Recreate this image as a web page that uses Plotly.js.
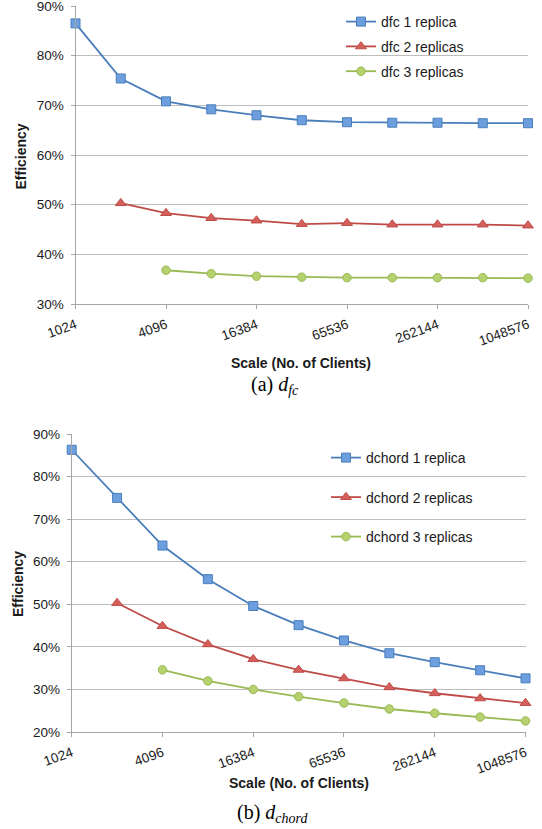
<!DOCTYPE html>
<html>
<head>
<meta charset="utf-8">
<script src="https://cdn.plot.ly/plotly-3.0.1.min.js"></script>
<style>
  html, body { margin: 0; padding: 0; background: #ffffff; }
  #chart { width: 542px; height: 829px; }
</style>
</head>
<body>
<div id="chart"></div>
<script>
// Number of clients at each measured scale
const clients = [1024, 2048, 4096, 8192, 16384, 32768, 65536, 131072, 262144, 524288, 1048576];
const tickValues = [1024, 4096, 16384, 65536, 262144, 1048576];
const tickLabels = ['1024', '4096', '16384', '65536', '262144', '1048576'];

// Efficiency of dfc with 1, 2 and 3 replicas
const dfc1 = [0.865, 0.754, 0.708, 0.692, 0.680, 0.670, 0.666, 0.665, 0.665, 0.664, 0.664];
const dfc2 = [null, 0.503, 0.483, 0.473, 0.468, 0.461, 0.463, 0.460, 0.460, 0.460, 0.458];
const dfc3 = [null, null, 0.368, 0.361, 0.356, 0.354, 0.353, 0.353, 0.353, 0.353, 0.352];

// Efficiency of dchord with 1, 2 and 3 replicas
const dchord1 = [0.863, 0.750, 0.638, 0.559, 0.496, 0.451, 0.415, 0.385, 0.364, 0.345, 0.326];
const dchord2 = [null, 0.503, 0.449, 0.406, 0.371, 0.346, 0.326, 0.305, 0.291, 0.279, 0.268];
const dchord3 = [null, null, 0.346, 0.320, 0.300, 0.283, 0.268, 0.254, 0.244, 0.235, 0.226];

const W = 542, H = 829;
const px = v => v / W;          // horizontal pixel -> paper
const py = v => 1 - v / H;      // vertical pixel -> paper
const EPS = 1e-6;               // keeps edge points and edge ticks inside the range

const SANS = 'Liberation Sans, Arial, sans-serif';
const SERIF = 'Liberation Serif, Times New Roman, serif';

const styles = [
  { line: '#4a7ebb', fill: '#6d9ede', symbol: 'square', size: 9 },
  { line: '#be4b48', fill: '#d45f5b', symbol: 'triangle-up', size: 9.5 },
  { line: '#98b954', fill: '#b6d26e', symbol: 'circle', size: 8.5 }
];

function series(name, values, k, xa, ya, legendId) {
  const s = styles[k];
  return {
    type: 'scatter', mode: 'lines+markers',
    x: clients, y: values, name: name,
    xaxis: xa, yaxis: ya, legend: legendId,
    legendgroup: legendId + '_' + k,
    connectgaps: false, cliponaxis: false,
    line: { color: s.line, width: 1.8 },
    marker: { symbol: s.symbol, size: s.size, color: s.fill, line: { color: s.line, width: 1 } },
    hoverinfo: 'x+y'
  };
}

const traces = [
  series('dfc 1 replica', dfc1, 0, 'x', 'y', 'legend'),
  series('dfc 2 replicas', dfc2, 1, 'x', 'y', 'legend'),
  series('dfc 3 replicas', dfc3, 2, 'x', 'y', 'legend'),
  series('dchord 1 replica', dchord1, 0, 'x2', 'y2', 'legend2'),
  series('dchord 2 replicas', dchord2, 1, 'x2', 'y2', 'legend2'),
  series('dchord 3 replicas', dchord3, 2, 'x2', 'y2', 'legend2')
];

const tickFont = { family: SANS, size: 13.5, color: '#1a1a1a' };

function xAxis(domain, anchor) {
  return {
    domain: domain, anchor: anchor, type: 'log',
    range: [Math.log10(clients[0]) - EPS, Math.log10(clients[clients.length - 1]) + EPS],
    tickmode: 'array', tickvals: tickValues, ticktext: tickLabels,
    tickangle: -20, tickfont: tickFont, ticklabelstandoff: 3,
    ticklabeloverflow: 'allow',
    ticks: 'outside', ticklen: 4, tickcolor: '#a6a6a6', tickwidth: 1,
    showline: true, linecolor: '#a6a6a6', linewidth: 1,
    showgrid: false, zeroline: false, fixedrange: true
  };
}

function yAxis(domain, anchor, lo, hi) {
  return {
    domain: domain, anchor: anchor, range: [lo - EPS, hi + EPS],
    tickmode: 'linear', dtick: 0.1, tick0: 0, tickformat: '.0%', tickfont: tickFont,
    ticklabeloverflow: 'allow',
    ticks: 'outside', ticklen: 4, tickcolor: '#a6a6a6', tickwidth: 1,
    ticklabelstandoff: 4,
    showline: true, linecolor: '#a6a6a6', linewidth: 1,
    showgrid: true, gridcolor: '#bdbdbd', gridwidth: 1,
    zeroline: false, fixedrange: true
  };
}

const layout = {
  width: W, height: H,
  margin: { l: 0, r: 0, t: 0, b: 0 },
  paper_bgcolor: '#ffffff', plot_bgcolor: '#ffffff',
  font: { family: SANS, color: '#1a1a1a' },
  xaxis: xAxis([px(75.5), px(528)], 'y'),
  yaxis: yAxis([py(304), py(6)], 'x', 0.30, 0.90),
  xaxis2: xAxis([px(71.7), px(525.5)], 'y2'),
  yaxis2: yAxis([py(732), py(434)], 'x2', 0.20, 0.90),
  legend: {
    x: px(341), y: py(6), xanchor: 'left', yanchor: 'top',
    bgcolor: 'rgba(0,0,0,0)', borderwidth: 0,
    font: { family: SANS, size: 14, color: '#1a1a1a' },
    tracegroupgap: 3.6
  },
  legend2: {
    x: px(326), y: py(442), xanchor: 'left', yanchor: 'top',
    bgcolor: 'rgba(0,0,0,0)', borderwidth: 0,
    font: { family: SANS, size: 14, color: '#1a1a1a' },
    tracegroupgap: 18.3
  },
  annotations: [
    { text: '<b>Efficiency</b>', textangle: -90, xref: 'paper', yref: 'paper',
      x: px(20.5), y: py(157), showarrow: false, xanchor: 'center', yanchor: 'middle',
      font: { family: SANS, size: 14, color: '#1a1a1a' } },
    { text: '<b>Scale (No. of Clients)</b>', xref: 'paper', yref: 'paper',
      x: px(301), y: py(363), showarrow: false, xanchor: 'center', yanchor: 'middle',
      font: { family: SANS, size: 14, color: '#1a1a1a' } },
    { text: '(a) <i>d</i><sub><i>fc</i></sub>', xref: 'paper', yref: 'paper',
      x: px(275), y: py(385), showarrow: false, xanchor: 'center', yanchor: 'middle',
      font: { family: SERIF, size: 20, color: '#000000' } },
    { text: '<b>Efficiency</b>', textangle: -90, xref: 'paper', yref: 'paper',
      x: px(18), y: py(584), showarrow: false, xanchor: 'center', yanchor: 'middle',
      font: { family: SANS, size: 14, color: '#1a1a1a' } },
    { text: '<b>Scale (No. of Clients)</b>', xref: 'paper', yref: 'paper',
      x: px(298.6), y: py(783), showarrow: false, xanchor: 'center', yanchor: 'middle',
      font: { family: SANS, size: 14, color: '#1a1a1a' } },
    { text: '(b) <i>d</i><sub><i>chord</i></sub>', xref: 'paper', yref: 'paper',
      x: px(272), y: py(813), showarrow: false, xanchor: 'center', yanchor: 'middle',
      font: { family: SERIF, size: 20, color: '#000000' } }
  ]
};

Plotly.newPlot('chart', traces, layout, { staticPlot: true, displayModeBar: false });
</script>
</body>
</html>
